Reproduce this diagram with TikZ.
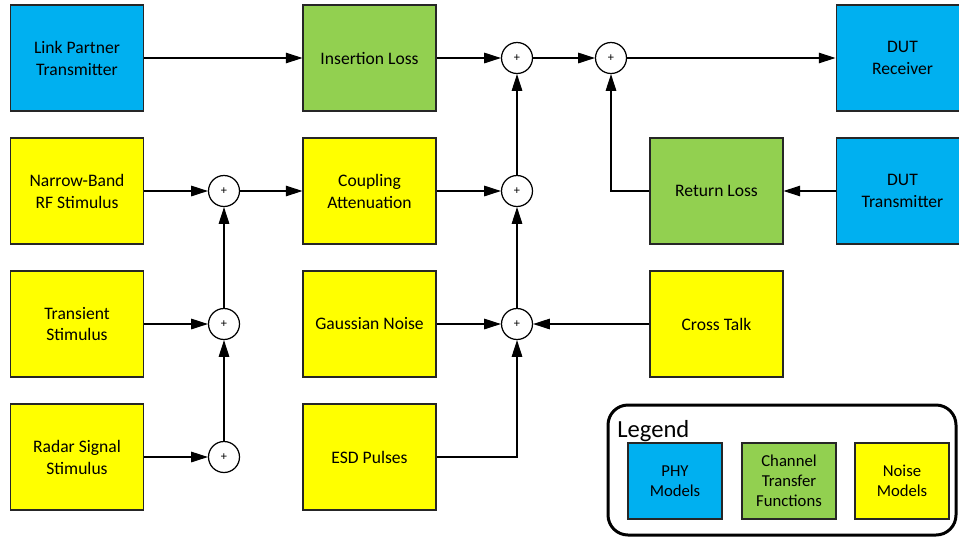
\documentclass[tikz,border=0pt]{standalone}
\usepackage{fontspec}
\setmainfont{Carlito}
\usetikzlibrary{arrows.meta}
\usetikzlibrary{positioning}
\definecolor{PhyBlue}{HTML}{00B0F0}
\definecolor{ChanGreen}{HTML}{92D050}
\definecolor{NoiseYellow}{HTML}{FFFF00}
\definecolor{EdgeGray}{HTML}{262626}
\tikzset{
  block/.style={draw=EdgeGray,line width=0.6pt,minimum width=2.66cm,minimum height=2.12cm,
    inner sep=0pt,align=center,font=\fontsize{10}{12.5}\selectfont},
  phy/.style={block,fill=PhyBlue},
  chan/.style={block,fill=ChanGreen},
  noise/.style={block,fill=NoiseYellow},
  keybox/.style={draw=EdgeGray,line width=0.6pt,minimum width=1.88cm,minimum height=1.52cm,
    inner sep=0pt,align=center,font=\fontsize{9.5}{11.5}\selectfont},
  sumnode/.style={circle,draw,line width=0.7pt,fill=white,minimum size=0.62cm,inner sep=0pt,
    font=\fontsize{7}{8}\selectfont},
  sig/.style={line width=0.6pt,-{Triangle[length=9.5pt,width=6pt]}}
}

\begin{document}
\begin{tikzpicture}[x=0.02cm,y=-0.02cm]
  \clip (0,0) rectangle (959,538);

  % phy models and channel
  \node[phy]  (lpt) at (77,58)    {Link Partner\\Transmitter};
  \node[chan] (il)  at (369.5,58) {Insertion Loss};
  \node[phy]  (rx)  at (902.5,58) {DUT\\Receiver};
  \node[chan] (rl)  at (716.5,191) {Return Loss};
  \node[phy]  (tx)  at (902.5,191) {DUT\\Transmitter};

  % noise sources
  \node[noise] (nb)  at (77,191)    {Narrow-Band\\RF Stimulus};
  \node[noise] (ca)  at (369.5,191) {Coupling\\Attenuation};
  \node[noise] (tr)  at (77,324)    {Transient\\Stimulus};
  \node[noise] (gn)  at (369.5,324) {Gaussian Noise};
  \node[noise] (ct)  at (716.5,324) {Cross Talk};
  \node[noise] (rad) at (77,457)    {Radar Signal\\Stimulus};
  \node[noise] (esd) at (369.5,457) {ESD Pulses};

  % summing points
  \node[sumnode] (sumA) at (517,58)  {+};
  \node[sumnode] (sumB) at (611,58)  {+};
  \node[sumnode] (sumC) at (517,191) {+};
  \node[sumnode] (sumG) at (517,324) {+};
  \node[sumnode] (sumN) at (224,191) {+};
  \node[sumnode] (sumT) at (224,324) {+};
  \node[sumnode] (sumR) at (224,457) {+};

  \draw[sig] (lpt) -- (il);
  \draw[sig] (il) -- (sumA);
  \draw[sig] (sumA) -- (sumB);
  \draw[sig] (sumB) -- (rx);
  \draw[sig] (tx) -- (rl);
  \draw[sig] (rl.west) -| (sumB);
  \draw[sig] (ca) -- (sumC);
  \draw[sig] (sumC) -- (sumA);
  \draw[sig] (gn) -- (sumG);
  \draw[sig] (sumG) -- (sumC);
  \draw[sig] (ct) -- (sumG);
  \draw[sig] (esd.east) -| (sumG);
  \draw[sig] (nb) -- (sumN);
  \draw[sig] (sumN) -- (ca);
  \draw[sig] (tr) -- (sumT);
  \draw[sig] (sumT) -- (sumN);
  \draw[sig] (rad) -- (sumR);
  \draw[sig] (sumR) -- (sumT);

  % legend
  \draw[line width=1.7pt,rounded corners=0.4cm] (608,405) rectangle (956,535);
  \node[anchor=base west,inner sep=0pt,font=\fontsize{14}{16}\selectfont] (legtitle) at (617,437) {Legend};
  \node[keybox,fill=PhyBlue]     (keyphy)   at (675,481) {PHY\\Models};
  \node[keybox,fill=ChanGreen]   (keychan)  at (789,481) {Channel\\Transfer\\Functions};
  \node[keybox,fill=NoiseYellow] (keynoise) at (902,481) {Noise\\Models};
\end{tikzpicture}
\end{document}
